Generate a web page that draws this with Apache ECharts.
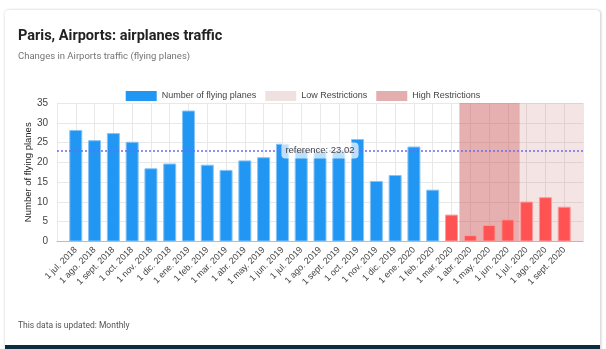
<!DOCTYPE html>
<html>
<head>
<meta charset="utf-8">
<script src="https://cdn.jsdelivr.net/npm/echarts@6/dist/echarts.min.js"></script>
<style>
  html, body { margin: 0; padding: 0; background: #ffffff; }
  #wrap { position: relative; width: 606px; height: 349px; overflow: hidden; }
  #card { position: absolute; left: 5px; top: 10px; width: 595px; height: 345px;
          background: #fff; border-radius: 4px;
          box-shadow: 0 0 3px rgba(0,0,0,0.18), 2px 0 2px rgba(0,0,0,0.08); }
  #band { position: absolute; left: 5px; top: 345px; width: 595px; height: 4px; background: #0b2d3d; }
  #chart { position: absolute; left: 0; top: 0; width: 606px; height: 349px; }
</style>
</head>
<body>
<div id="wrap">
  <div id="card"></div>
  <div id="band"></div>
  <div id="chart"></div>
</div>
<script>
const categories = ['1 jul. 2018','1 ago. 2018','1 sept. 2018','1 oct. 2018','1 nov. 2018','1 dic. 2018',
  '1 ene. 2019','1 feb. 2019','1 mar. 2019','1 abr. 2019','1 may. 2019','1 jun. 2019','1 jul. 2019',
  '1 ago. 2019','1 sept. 2019','1 oct. 2019','1 nov. 2019','1 dic. 2019','1 ene. 2020','1 feb. 2020',
  '1 mar. 2020','1 abr. 2020','1 may. 2020','1 jun. 2020','1 jul. 2020','1 ago. 2020','1 sept. 2020'];
const planes = [28.2,25.6,27.4,25.2,18.5,19.7,33.1,19.4,18.1,20.5,21.3,24.7,23.2,22.6,22.8,25.9,15.3,16.8,
  24.0,13.1,6.8,1.6,4.2,5.6,10.1,11.2,8.8];
const restrictedFromIndex = 20;          // bars drawn red from '1 mar. 2020'
const referenceValue = 23.02;
const highRestrictions = [20.42, 23.63]; // mid-March 2020 .. mid-June 2020 (month index)
const lowRestrictions = [23.63, 27];     // mid-June 2020 .. end of axis
const yTicks = { min: 0, max: 35, interval: 5 };

const blue = '#2196F3', red = '#FF5252';
const barData = planes.map((v, i) => ({
  value: [i, v],
  itemStyle: i >= restrictedFromIndex
    ? { color: red, borderColor: '#ff9c9c' }
    : { color: blue, borderColor: '#86c4f8' }
}));

const chart = echarts.init(document.getElementById('chart'), null, { renderer: 'canvas' });
chart.setOption({
  backgroundColor: 'transparent',
  animation: false,
  textStyle: { fontFamily: 'Roboto, Arial, sans-serif' },
  title: {
    text: 'Paris, Airports: airplanes traffic',
    subtext: 'Changes in Airports traffic (flying planes)',
    left: 13, top: 24, itemGap: 8,
    textStyle: { fontSize: 14.5, fontWeight: 'bold', color: '#222', fontFamily: 'Roboto' },
    subtextStyle: { fontSize: 9.5, color: '#757575', fontFamily: 'Roboto' }
  },
  legend: {
    left: 'center', top: 86, itemWidth: 31, itemHeight: 10, itemGap: 9,
    icon: 'rect',
    textStyle: { fontSize: 9, color: '#444', fontFamily: 'Arial' },
    data: ['Number of flying planes', 'Low Restrictions', 'High Restrictions']
  },
  graphic: [{
    type: 'text', left: 18, top: 321,
    style: { text: 'This data is updated: Monthly', fontSize: 8.5, fill: '#555', fontFamily: 'Roboto' }
  }],
  grid: { left: 57, right: 23, top: 103, bottom: 107.5, containLabel: false },
  xAxis: {
    type: 'value', min: -1, max: categories.length, interval: 1,
    axisLine: { show: true, lineStyle: { color: '#bdbdbd' } },
    axisTick: { show: false },
    splitLine: { show: true, lineStyle: { color: '#e8e8e8' } },
    axisLabel: {
      rotate: 45, fontSize: 9, color: '#444', margin: 7, fontFamily: 'Arial',
      showMinLabel: true, showMaxLabel: true,
      formatter: v => categories[v] || ''
    }
  },
  yAxis: {
    type: 'value', min: yTicks.min, max: yTicks.max, interval: yTicks.interval,
    name: 'Number of flying planes', nameLocation: 'middle', nameGap: 24, nameRotate: 90,
    nameMoveOverlap: false,
    nameTextStyle: { fontSize: 9.5, color: '#222', fontFamily: 'Arial' },
    axisLine: { show: false }, axisTick: { show: false },
    splitLine: { lineStyle: { color: '#e8e8e8' } },
    axisLabel: { fontSize: 10, color: '#444', margin: 9, fontFamily: 'Arial' }
  },
  series: [
    {
      name: 'Low Restrictions', type: 'bar', data: [], z: 1,
      itemStyle: { color: '#f0e1e1' },
      markArea: {
        silent: true,
        itemStyle: { color: 'rgba(205,120,120,0.2)' },
        data: [[{ xAxis: lowRestrictions[0] }, { xAxis: lowRestrictions[1] }]]
      }
    },
    {
      name: 'High Restrictions', type: 'bar', data: [], z: 1,
      itemStyle: { color: '#e3aeae' },
      markArea: {
        silent: true,
        itemStyle: { color: 'rgba(200,80,80,0.45)' },
        data: [[{ xAxis: highRestrictions[0] }, { xAxis: highRestrictions[1] }]]
      }
    },
    {
      name: 'Number of flying planes', type: 'bar', z: 3,
      barWidth: 13, barGap: '-100%',
      itemStyle: { color: blue, borderWidth: 1 },
      data: barData,
      markLine: {
        silent: true, symbol: 'none', z: 5,
        lineStyle: { color: '#6b6bf5', type: [2, 2], width: 1.5 },
        label: {
          show: true, position: 'middle', distance: 0, verticalAlign: 'middle',
          formatter: 'reference: ' + referenceValue.toFixed(2),
          fontSize: 9.5, color: '#444', fontFamily: 'Arial',
          backgroundColor: 'rgba(255,255,255,0.7)', padding: [3, 4], borderRadius: 4
        },
        data: [{ yAxis: referenceValue }]
      }
    }
  ]
});
</script>
</body>
</html>
